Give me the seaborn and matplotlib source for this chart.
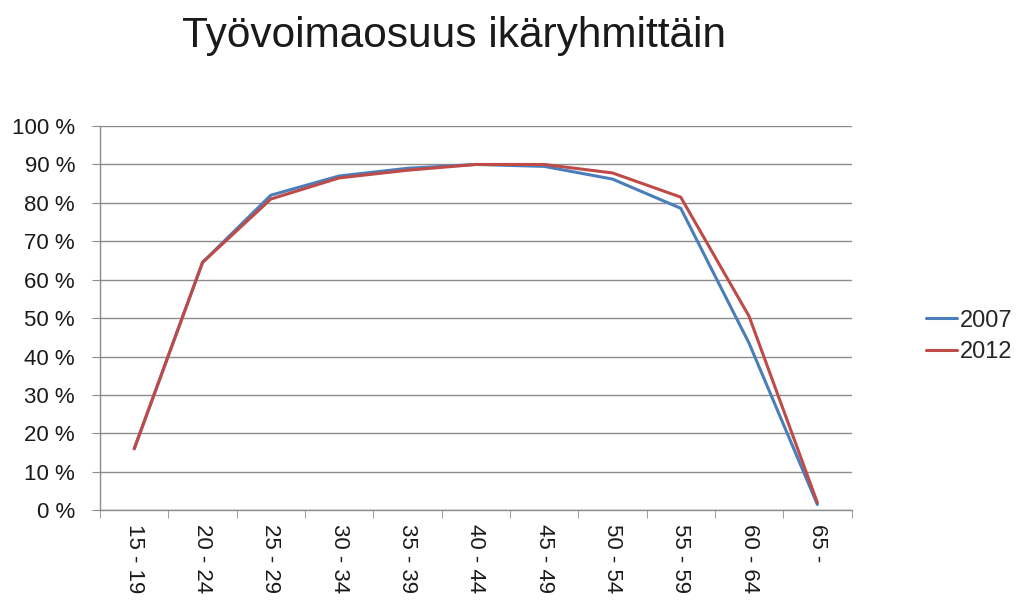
import numpy as np
import pandas as pd
import matplotlib
matplotlib.use("Agg")
import matplotlib.pyplot as plt
import seaborn as sns
from matplotlib.ticker import FixedLocator, FuncFormatter

# Data
age_groups = ["15 - 19", "20 - 24", "25 - 29", "30 - 34", "35 - 39", "40 - 44",
              "45 - 49", "50 - 54", "55 - 59", "60 - 64", "65 -"]
rate_2007 = [16.0, 64.5, 82.0, 87.0, 89.0, 90.0, 89.5, 86.2, 78.6, 43.5, 1.5]
rate_2012 = [16.0, 64.5, 81.0, 86.5, 88.5, 90.0, 90.0, 87.8, 81.5, 50.5, 2.0]
years = ["2007", "2012"]
colors = {"2007": "#4A7EBB", "2012": "#BE4B48"}

df = pd.DataFrame({
    "pos": list(range(len(age_groups))) * 2,
    "rate": rate_2007 + rate_2012,
    "year": [years[0]] * len(age_groups) + [years[1]] * len(age_groups),
})

sns.set_style("white")
plt.rcParams["font.family"] = ["Liberation Sans", "DejaVu Sans"]

fig = plt.figure(figsize=(10.21, 6.06), dpi=100)
ax = fig.add_axes([0.098, 0.158, 0.736, 0.634])

sns.lineplot(data=df, x="pos", y="rate", hue="year", palette=colors,
             linewidth=2.2, ax=ax, legend=False)

grid_col = "#8c8c8c"
ax.set_ylim(0, 100)
ax.set_xlim(-0.5, len(age_groups) - 0.5)
ax.set_yticks(np.arange(0, 101, 10))
ax.yaxis.set_major_formatter(FuncFormatter(lambda v, p: f"{int(v)} %"))
ax.yaxis.grid(True, color=grid_col, linewidth=1.0)
ax.set_axisbelow(True)

ax.set_xticks(range(len(age_groups)))
ax.set_xticklabels(age_groups, rotation=-90, va="top", ha="center")
ax.xaxis.set_minor_locator(FixedLocator(np.arange(-0.5, len(age_groups), 1.0)))
ax.tick_params(axis="x", which="major", length=0, pad=10, labelsize=16, labelcolor="#1a1a1a")
ax.tick_params(axis="x", which="minor", length=6, color=grid_col, direction="out", bottom=True)
ax.tick_params(axis="y", length=6, color=grid_col, direction="out", left=True, labelsize=16,
               labelcolor="#1a1a1a", pad=12)

for side in ["top", "right"]:
    ax.spines[side].set_visible(False)
for side in ["left", "bottom"]:
    ax.spines[side].set_color(grid_col)
    ax.spines[side].set_linewidth(1.0)

ax.set_xlabel("")
ax.set_ylabel("")

handles = [plt.Line2D([], [], color=colors[y], linewidth=2.2) for y in years]
fig.legend(handles, years, loc="center left", bbox_to_anchor=(0.886, 0.445),
           frameon=False, fontsize=17, handlelength=1.3, handletextpad=0.15,
           labelspacing=0.4)

fig.text(0.445, 0.94, "Työvoimaosuus ikäryhmittäin", ha="center", va="center",
         fontsize=30.5, color="#1a1a1a")

fig.savefig("out.png", dpi=100)
